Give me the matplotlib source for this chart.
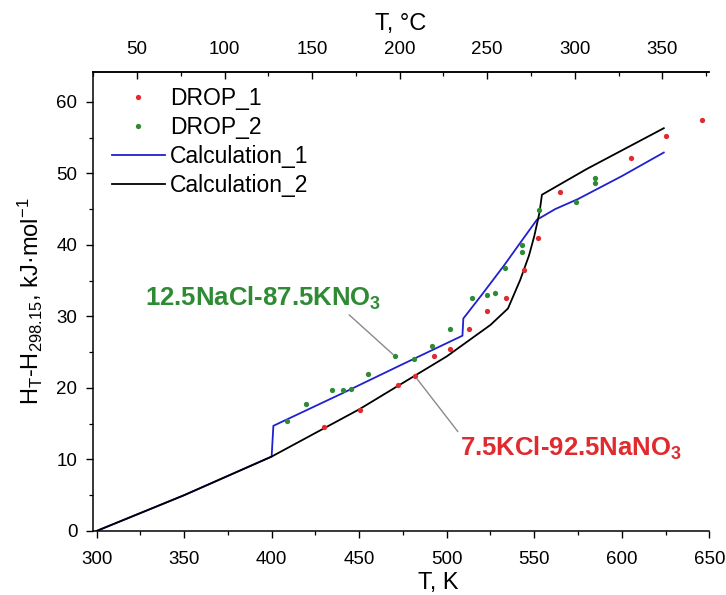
import matplotlib
matplotlib.use("Agg")
import matplotlib.pyplot as plt
from matplotlib.ticker import MultipleLocator, FixedLocator

plt.rcParams['font.family'] = ['Liberation Sans', 'DejaVu Sans']
plt.rcParams['mathtext.fontset'] = 'custom'
plt.rcParams['mathtext.rm'] = 'Liberation Sans'
plt.rcParams['mathtext.it'] = 'Liberation Sans:italic'
plt.rcParams['mathtext.bf'] = 'Liberation Sans:bold'

# ---- data ----
drop1_T = [430, 450.6, 472.3, 482, 492.5, 502, 513, 523.3, 534, 543.9, 551.9, 564.9, 605.3, 625.4, 645.8]
drop1_H = [14.6, 16.9, 20.4, 21.6, 24.5, 25.5, 28.3, 30.7, 32.5, 36.5, 40.9, 47.4, 52.2, 55.2, 57.4]

drop2_T = [408.7, 419.7, 434.4, 440.5, 445.3, 455.3, 470.6, 481.5, 491.5, 502, 514.4, 523, 527.7,
           533.4, 543, 543, 553, 574, 584.5, 584.5]
drop2_H = [15.4, 17.8, 19.7, 19.7, 19.9, 21.9, 24.4, 24.1, 25.9, 28.2, 32.5, 33.0, 33.3,
           36.7, 39.0, 40.0, 44.8, 46.0, 48.6, 49.3]

calc1_T = [300, 350, 400, 401, 440, 473, 509, 509.5, 520, 533, 545, 551.5, 562, 575, 600, 624]
calc1_H = [0, 5.0, 10.4, 14.7, 19.2, 23.1, 27.3, 29.7, 33.0, 37.2, 41.3, 43.5, 45.0, 46.4, 49.6, 52.9]

calc2_T = [300, 350, 400, 450, 500, 525, 535, 542, 547, 550, 553, 554.4, 580, 624]
calc2_H = [0, 5.0, 10.4, 17.0, 24.4, 28.8, 31.1, 35.1, 38.5, 41.2, 44.5, 47.0, 50.6, 56.3]

x_ticks_K = [300, 350, 400, 450, 500, 550, 600, 650]
y_ticks = [0, 10, 20, 30, 40, 50, 60]
top_ticks_C = [50, 100, 150, 200, 250, 300, 350]
top_minor_C = [25, 75, 125, 175, 225, 275, 325, 375]

label1 = "12.5NaCl-87.5KNO$_\\mathbf{3}$"
label2 = "7.5KCl-92.5NaNO$_\\mathbf{3}$"
label1_xy = (395.3, 32.5)
label1_pt = (470.6, 24.4)
label2_xy = (571.0, 11.6)
label2_pt = (482.0, 21.6)

# ---- figure ----
fig = plt.figure(figsize=(7.26, 5.95), dpi=100)
ax = fig.add_axes([0.1277, 0.1076, 0.8493, 0.7719])

c_red = '#e02a2e'
c_green = '#2e8b34'
c_blue = '#2020d0'

ax.plot(calc1_T, calc1_H, color=c_blue, lw=1.3, label='Calculation_1', zorder=2)
ax.plot(calc2_T, calc2_H, color='black', lw=1.3, label='Calculation_2', zorder=3)
ax.plot(drop1_T, drop1_H, 'o', ms=3.8, color=c_red, mec='none', label='DROP_1', zorder=4)
ax.plot(drop2_T, drop2_H, 'o', ms=3.8, color=c_green, mec='none', label='DROP_2', zorder=4)

ax.set_xlim(297.8, 650)
ax.set_ylim(0, 64.2)

ax.set_xticks(x_ticks_K)
ax.xaxis.set_minor_locator(MultipleLocator(25))
ax.set_yticks(y_ticks)
ax.yaxis.set_minor_locator(MultipleLocator(5))

for s in ['left', 'bottom', 'top']:
    ax.spines[s].set_linewidth(1.1)
ax.spines['right'].set_visible(False)

ax.tick_params(axis='both', which='major', direction='out', length=5, width=1.0,
               labelsize=13.5, pad=6, top=False, right=False)
ax.tick_params(axis='x', which='major', pad=9.5)
ax.tick_params(axis='both', which='minor', direction='out', length=3, width=0.9,
               top=False, right=False)

ax.set_xlabel('T, K', fontsize=17)
ax.xaxis.set_label_coords(0.56, -0.09)
ax.set_ylabel('H$_\\mathrm{T}$-H$_\\mathrm{298.15}$, kJ·mol$^\\mathrm{-1}$', fontsize=17, labelpad=8)

secax = ax.secondary_xaxis('top', functions=(lambda k: k - 273.15, lambda c: c + 273.15))
secax.set_xticks(top_ticks_C)
secax.xaxis.set_minor_locator(FixedLocator(top_minor_C))
secax.spines['top'].set_linewidth(1.1)
secax.tick_params(which='major', direction='in', length=5, width=1.0, labelsize=13.5, pad=10)
secax.tick_params(which='minor', direction='in', length=3, width=0.9)
secax.set_xlabel('T, °C', fontsize=17, labelpad=8)

# legend
handles, labels = ax.get_legend_handles_labels()
order = [2, 3, 0, 1]
ax.legend([handles[i] for i in order], [labels[i] for i in order],
          loc='upper left', bbox_to_anchor=(0.031, 0.967), frameon=False,
          fontsize=16.5, borderpad=0, borderaxespad=0, labelspacing=0.27,
          handlelength=2.3, handletextpad=0.25, numpoints=1)

# annotations
ax.annotate(label1, xy=label1_pt, xytext=label1_xy, ha='center', va='center',
            fontsize=18.5, fontweight='bold', color=c_green,
            arrowprops=dict(arrowstyle='-', color='#8a8a8a', lw=1.0, shrinkA=0, shrinkB=2,
                            relpos=(0.85, 0.0)), zorder=5)
ax.annotate(label2, xy=label2_pt, xytext=label2_xy, ha='center', va='center',
            fontsize=18.5, fontweight='bold', color=c_red,
            arrowprops=dict(arrowstyle='-', color='#8a8a8a', lw=1.0, shrinkA=0, shrinkB=2,
                            relpos=(0.0, 1.0)), zorder=5)

fig.savefig('out.png', dpi=100)
